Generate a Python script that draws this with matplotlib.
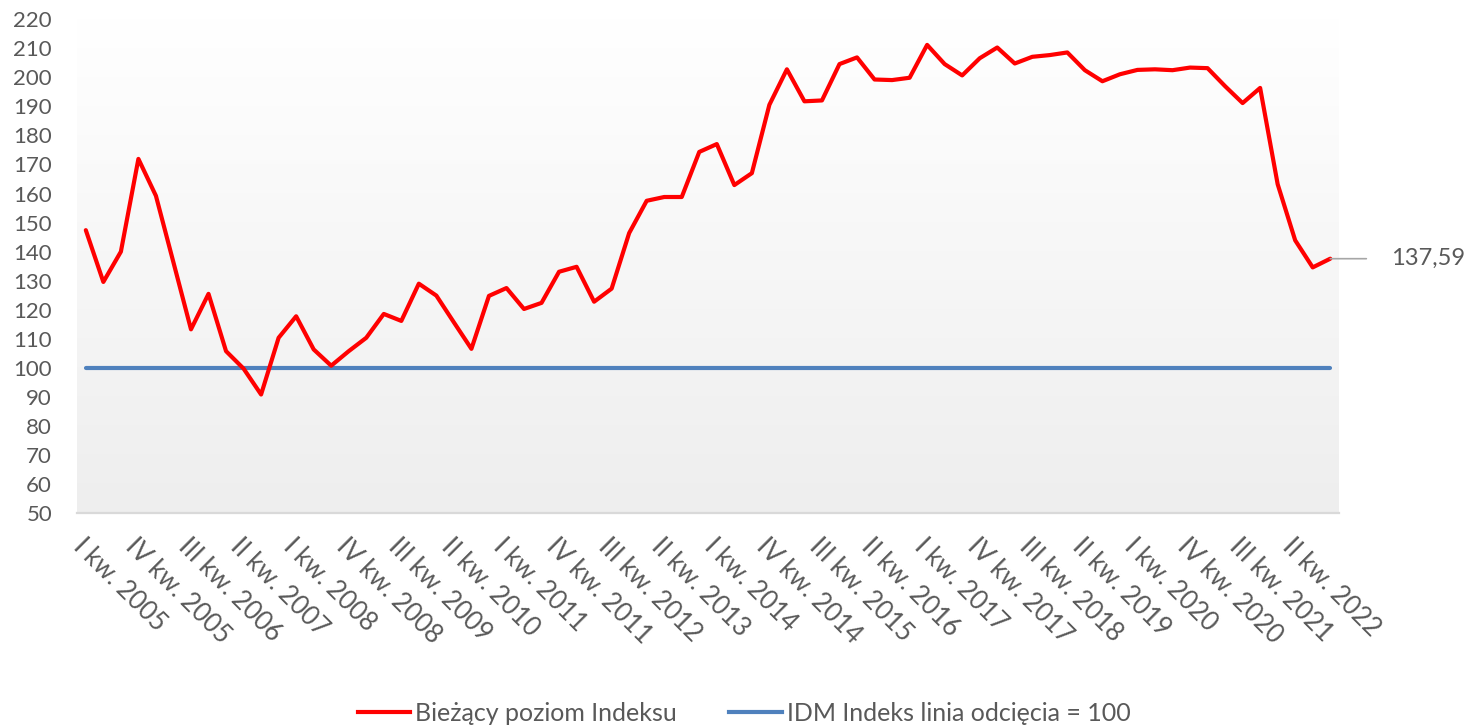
import numpy as np
import matplotlib
matplotlib.use('Agg')
import matplotlib.pyplot as plt
from matplotlib.colors import LinearSegmentedColormap
from matplotlib.lines import Line2D

plt.rcParams['font.family'] = ['Lato', 'DejaVu Sans']

# Quarterly index values, I kw. 2005 .. IV kw. 2022
index_values = [
    147.4, 129.6, 140.0, 171.9, 159.2, 136.3, 113.3, 125.5, 105.8, 99.8,
    90.9, 110.4, 117.8, 106.4, 100.8, 105.8, 110.4, 118.6, 116.2, 129.0,
    124.9, 115.7, 106.6, 124.8, 127.5, 120.3, 122.4, 133.1, 134.8, 122.8,
    127.3, 146.4, 157.5, 158.8, 158.8, 174.3, 177.0, 162.9, 167.0, 190.5,
    202.7, 191.7, 192.0, 204.5, 206.8, 199.2, 199.0, 199.8, 211.1, 204.5,
    200.6, 206.5, 210.2, 204.7, 207.0, 207.6, 208.5, 202.4, 198.6, 201.0,
    202.5, 202.7, 202.4, 203.3, 203.1, 196.9, 191.1, 196.3, 163.2, 143.9,
    134.6, 137.59,
]
cutoff = 100

# every third quarter gets a label
tick_labels = [
    'I kw. 2005', 'IV kw. 2005', 'III kw. 2006', 'II kw. 2007',
    'I kw. 2008', 'IV kw. 2008', 'III kw. 2009', 'II kw. 2010',
    'I kw. 2011', 'IV kw. 2011', 'III kw. 2012', 'II kw. 2013',
    'I kw. 2014', 'IV kw. 2014', 'III kw. 2015', 'II kw. 2016',
    'I kw. 2017', 'IV kw. 2017', 'III kw. 2018', 'II kw. 2019',
    'I kw. 2020', 'IV kw. 2020', 'III kw. 2021', 'II kw. 2022',
]

TXT = '#595959'
RED = '#ff0000'
BLUE = '#4f81bd'

x = np.arange(len(index_values))

fig = plt.figure(figsize=(14.65, 7.28), dpi=100)
ax = fig.add_axes([0.0526, 0.2947, 0.8614, 0.6792])

# soft vertical gradient in the plot area
grad = LinearSegmentedColormap.from_list('bg', ['#ffffff', '#eeeeee'])
ax.imshow(np.linspace(0, 1, 256).reshape(-1, 1), cmap=grad, aspect='auto',
          extent=[-0.5, len(x) - 0.5, 50, 220], zorder=0)

ax.plot(x, index_values, color=RED, lw=3, solid_joinstyle='round',
        solid_capstyle='round', zorder=3)
ax.plot(x, [cutoff] * len(x), color=BLUE, lw=3, solid_capstyle='round', zorder=2)

ax.set_xlim(-0.5, len(x) - 0.5)
ax.set_ylim(50, 220)

for s in ['top', 'right', 'left']:
    ax.spines[s].set_visible(False)
ax.spines['bottom'].set_color('#d9d9d9')
ax.spines['bottom'].set_linewidth(1.6)

ax.set_yticks(range(50, 221, 10))
ax.tick_params(axis='y', length=0, pad=18, labelsize=16, labelcolor=TXT)
ax.set_xticks(x[::3])
ax.set_xticklabels(tick_labels)
ax.tick_params(axis='x', length=0, pad=15, labelsize=18.5, labelcolor=TXT)
plt.setp(ax.get_xticklabels(), rotation=-45, ha='left', va='top',
         rotation_mode='anchor')

# value label for the last quarter
last = index_values[-1]
ax.annotate(f'{last:.2f}'.replace('.', ','), xy=(x[-1], last),
            xytext=(44, 0), textcoords='offset points', ha='left', va='center',
            fontsize=17, color=TXT, annotation_clip=False,
            arrowprops=dict(arrowstyle='-', color='#a6a6a6', lw=1.2,
                            shrinkA=16, shrinkB=0, relpos=(0, 0.5)))

handles = [Line2D([], [], color=RED, lw=3),
           Line2D([], [], color=BLUE, lw=3)]
fig.legend(handles, ['Bieżący poziom Indeksu', 'IDM Indeks linia odcięcia = 100'],
           loc='center', bbox_to_anchor=(0.508, 0.0206), ncol=2, frameon=False,
           fontsize=18, labelcolor=TXT, handlelength=2.1, handletextpad=0.2,
           columnspacing=2.1)

plt.savefig('out.png', dpi=100)
